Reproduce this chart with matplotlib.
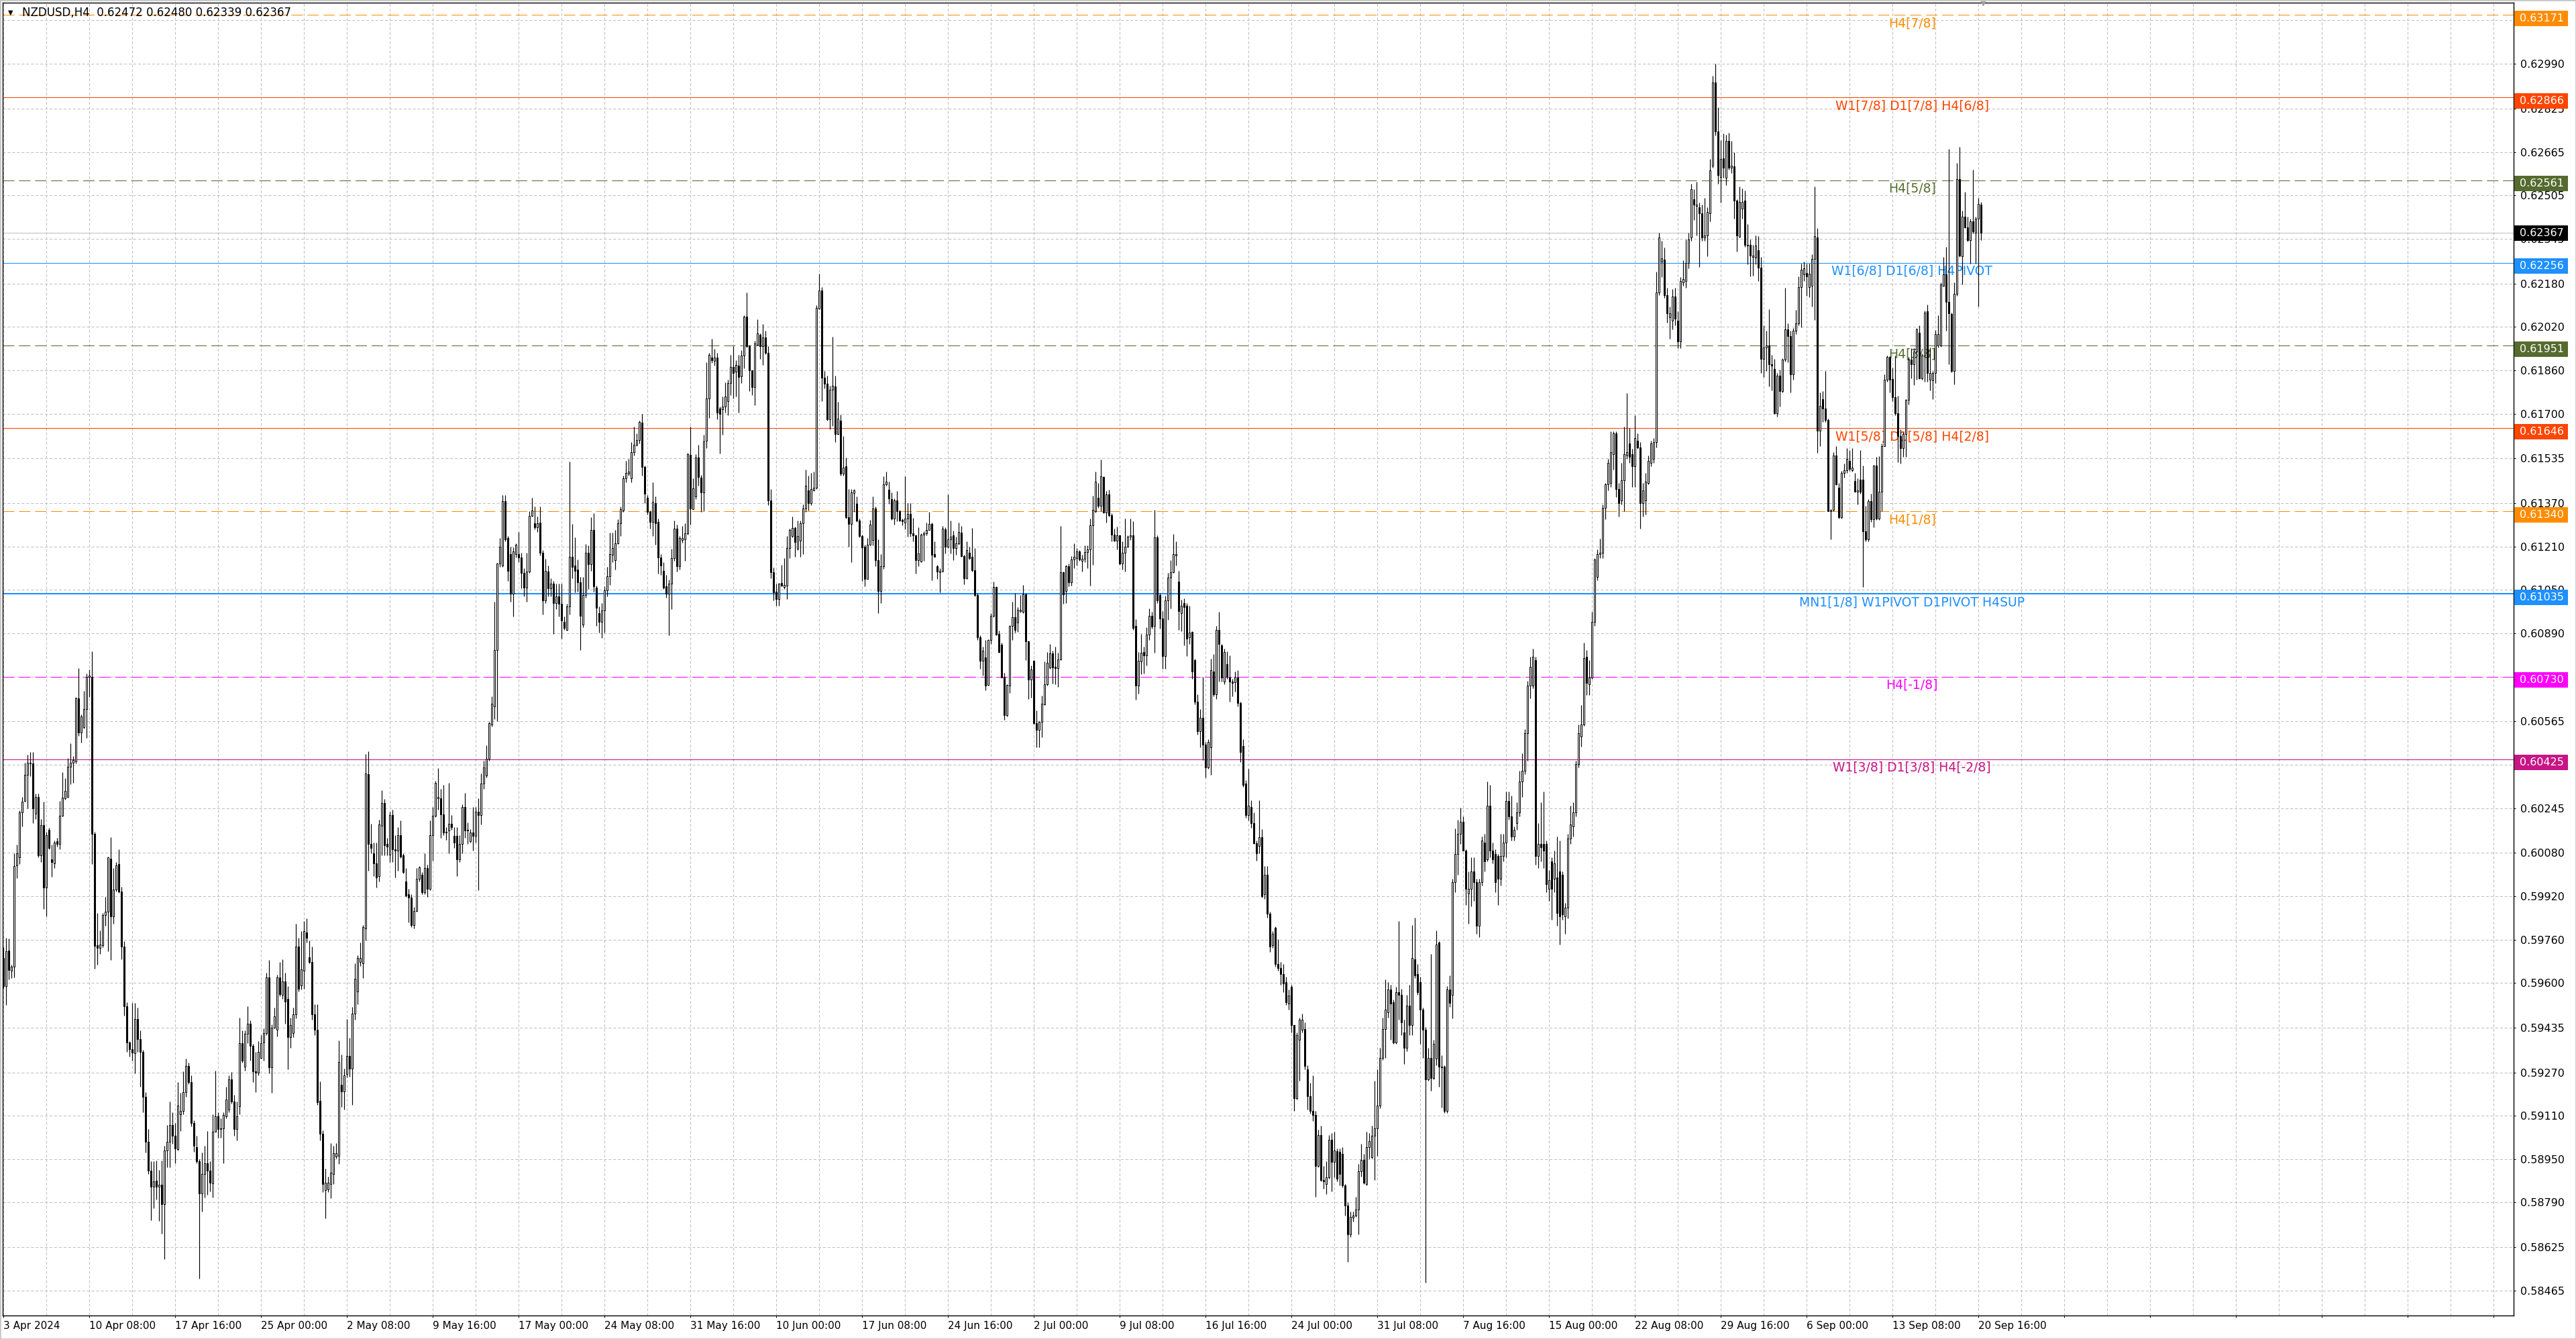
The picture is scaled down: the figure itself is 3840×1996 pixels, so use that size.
import numpy as np
import matplotlib
matplotlib.use("Agg")
import matplotlib.pyplot as plt
import matplotlib.transforms as mtransforms
from matplotlib.patches import Rectangle

plt.rcParams['font.family'] = ['DejaVu Sans']
plt.rcParams['lines.scale_dashes'] = False

# NZDUSD H4, prices in units of 0.00001
symbol_info = "NZDUSD,H4  0.62472 0.62480 0.62339 0.62367"

opens = [
    59692, 59589, 59719, 59645, 59660, 60034, 60063, 60228, 60271, 60367,
    60413, 60410, 60224, 60287, 60071, 60181, 59952, 60165, 60055, 60042,
    60123, 60113, 60217, 60280, 60287, 60397, 60413, 60418, 60650, 60523,
    60544, 60610, 60729, 60729, 60149, 59739, 59730, 59739, 59850, 59862,
    60058, 59845, 59944, 60039, 59936, 59734, 59515, 59381, 59356, 59340,
    59466, 59392, 59345, 59179, 59013, 58908, 58848, 58871, 58848, 58855,
    58784, 58982, 59013, 59076, 59037, 58986, 59116, 59127, 59198, 59293,
    59234, 59084, 58993, 58942, 58824, 58895, 58934, 58908, 58860, 59050,
    59108, 59061, 59064, 59108, 59132, 59245, 59163, 59061, 59144, 59377,
    59290, 59413, 59450, 59368, 59274, 59270, 59324, 59381, 59416, 59621,
    59289, 59435, 59428, 59621, 59555, 59605, 59540, 59401, 59416, 59483,
    59733, 59590, 59644, 59786, 59695, 59676, 59483, 59426, 59165, 59043,
    58835, 58839, 58858, 58896, 58960, 58962, 59225, 59199, 59265, 59331,
    59284, 59487, 59568, 59676, 59672, 59801, 60369, 60112, 60079, 60042,
    59994, 60180, 60263, 60112, 60074, 60218, 60093, 60089, 60146, 60070,
    59975, 59928, 59915, 59814, 59865, 59985, 59998, 59934, 60023, 59947,
    60146, 60216, 60282, 60282, 60222, 60155, 60161, 60187, 60142, 60142,
    60055, 60112, 60250, 60165, 60123, 60155, 60142, 60231, 60218, 60335,
    60364, 60426, 60553, 60619, 60828, 61146, 61140, 61377, 61240, 61183,
    61036, 61183, 61182, 61169, 61112, 61059, 61117, 61324, 61295, 61282,
    61297, 61187, 61011, 61117, 61055, 61074, 61002, 61026, 60998, 60932,
    60903, 60989, 61172, 61140, 61125, 61078, 60921, 61030, 61186, 61144,
    61272, 61059, 60964, 60931, 60973, 61049, 61101, 61179, 61160, 61222,
    61295, 61343, 61461, 61478, 61461, 61558, 61584, 61603, 61668, 61504,
    61390, 61338, 61300, 61371, 61300, 61169, 61120, 61063, 61035, 61073,
    61168, 61276, 61137, 61234, 61236, 61258, 61548, 61347, 61395, 61537,
    61463, 61409, 61601, 61755, 61908, 61895, 61906, 61719, 61717, 61726,
    61745, 61812, 61871, 61854, 61878, 61838, 61914, 62058, 61949, 61859,
    61797, 61955, 61990, 61949, 61982, 61923, 61381, 61115, 61044, 61016,
    61075, 61061, 61065, 61204, 61248, 61279, 61201, 61232, 61295, 61349,
    61418, 61371, 61418, 61428, 62088, 62154, 61832, 61810, 61679, 61788,
    61800, 61624, 61674, 61478, 61507, 61319, 61293, 61406, 61368, 61305,
    61248, 61208, 61090, 61217, 61233, 61351, 61159, 61046, 61138, 61438,
    61420, 61384, 61312, 61379, 61340, 61307, 61299, 61312, 61330, 61258,
    61250, 61159, 61155, 61254, 61258, 61272, 61293, 61181, 61138, 61115,
    61120, 61274, 61208, 61236, 61252, 61203, 61222, 61260, 61175, 61093,
    61186, 61171, 61122, 61031, 60874, 60788, 60800, 60699, 60866, 60953,
    61060, 60887, 60848, 60730, 60587, 60697, 60916, 60949, 60930, 60972,
    60969, 61033, 60859, 60718, 60788, 60557, 60534, 60562, 60627, 60701,
    60763, 60815, 60765, 60760, 60793, 61114, 61046, 61137, 61079, 61163,
    61167, 61192, 61156, 61165, 61189, 61200, 61287, 61340, 61390, 61359,
    61467, 61336, 61401, 61326, 61254, 61231, 61252, 61148, 61186, 61208,
    61247, 61250, 60916, 60697, 60785, 60821, 60808, 60884, 60955, 60917,
    61243, 61032, 60945, 60805, 61010, 61094, 61116, 61177, 61080, 60963,
    61000, 60991, 60876, 60894, 60790, 60637, 60529, 60578, 60479, 60395,
    60470, 60749, 60665, 60902, 60846, 60712, 60777, 60727, 60712, 60708,
    60727, 60632, 60473, 60336, 60218, 60250, 60190, 60116, 60106, 60138,
    59926, 60000, 59855, 59740, 59803, 59669, 59654, 59632, 59604, 59523,
    59585, 59445, 59175, 59390, 59427, 59430, 59281, 59181, 59129, 59114,
    58924, 59039, 58872, 58858, 58883, 59021, 58939, 58980, 58976, 58970,
    58853, 58779, 58672, 58734, 58741, 58765, 58905, 58946, 58859, 58995,
    58957, 59036, 59063, 59147, 59324, 59430, 59492, 59576, 59529, 59380,
    59566, 59557, 59417, 59361, 59516, 59445, 59687, 59632, 59604, 59501,
    59427, 59244, 59324, 59250, 59320, 59750, 59290, 59290, 59129, 59576,
    59556, 59972, 60075, 60151, 60195, 60087, 59929, 59947, 60011, 59972,
    59811, 59972, 60118, 60057, 60254, 60087, 60075, 60067, 59985, 60067,
    60118, 60272, 60215, 60139, 60190, 60228, 60343, 60382, 60522, 60696,
    60696, 60791, 60067, 60113, 60113, 60113, 59947, 60049, 59985, 59990,
    60011, 59998, 59845, 59878, 60133, 60177, 60228, 60407, 60509, 60553,
    60803, 60701, 60727, 60931, 61097, 61182, 61187, 61353, 61438, 61443,
    61550, 61627, 61422, 61379, 61455, 61545, 61591, 61550, 61507, 61601,
    61576, 61371, 61379, 61443, 61519, 61532, 61596, 62146, 62261, 62269,
    62138, 62056, 62044, 62133, 62044, 61967, 62184, 62189, 62256, 62350,
    62491, 62465, 62460, 62440, 62350, 62358, 62440, 62614, 62921, 62742,
    62573, 62642, 62569, 62707, 62607, 62611, 62485, 62353, 62456, 62485,
    62323, 62323, 62277, 62275, 62303, 62239, 61902, 61944, 61952, 61883,
    61866, 61702, 61840, 61783, 61900, 62012, 61986, 61844, 62006, 62034,
    62167, 62213, 62219, 62167, 62171, 62271, 62349, 61637, 61753, 61718,
    61676, 61339, 61346, 61546, 61426, 61317, 61482, 61491, 61527, 61491,
    61452, 61411, 61456, 61456, 61266, 61236, 61378, 61310, 61508, 61313,
    61411, 61581, 61825, 61909, 61827, 61760, 61702, 61618, 61572, 61624,
    61750, 61900, 61883, 61928, 61999, 61831, 61915, 62077, 61825, 61822,
    61851, 61951, 61951, 62171, 62213, 62112, 62068, 61857, 62142, 62565,
    62280, 62426, 62388, 62340, 62409, 62368, 62420, 62472,
]

highs = [
    59731, 59766, 59763, 59668, 60078, 60110, 60236, 60287, 60413, 60441,
    60452, 60452, 60299, 60299, 60205, 60268, 60157, 60173, 60110, 60126,
    60134, 60271, 60378, 60355, 60429, 60484, 60437, 60654, 60760, 60591,
    60678, 60741, 60757, 60823, 60157, 59858, 59794, 59858, 59918, 60066,
    60138, 60023, 60047, 60094, 59955, 59755, 59529, 59384, 59526, 59526,
    59510, 59424, 59353, 59198, 59061, 58942, 58942, 58945, 58911, 58945,
    58998, 59076, 59163, 59124, 59084, 59234, 59195, 59274, 59321, 59305,
    59258, 59092, 59037, 58950, 58974, 58998, 59053, 58942, 59116, 59277,
    59124, 59100, 59124, 59218, 59258, 59271, 59187, 59163, 59471, 59424,
    59424, 59514, 59463, 59376, 59345, 59384, 59408, 59432, 59637, 59684,
    59447, 59510, 59629, 59676, 59687, 59637, 59589, 59473, 59510, 59818,
    59767, 59790, 59828, 59837, 59757, 59733, 59521, 59521, 59237, 59057,
    58915, 58886, 59009, 59000, 59009, 59388, 59335, 59284, 59468, 59398,
    59511, 59672, 59701, 59748, 59814, 60445, 60453, 60187, 60117, 60117,
    60203, 60311, 60278, 60136, 60231, 60240, 60146, 60174, 60199, 60079,
    60023, 59947, 59928, 59881, 60023, 60032, 60009, 60079, 60036, 60199,
    60250, 60345, 60392, 60316, 60331, 60174, 60339, 60218, 60174, 60174,
    60146, 60259, 60301, 60193, 60168, 60250, 60250, 60282, 60373, 60420,
    60477, 60562, 60657, 61007, 61150, 61240, 61400, 61400, 61248, 61210,
    61206, 61221, 61263, 61187, 61131, 61187, 61339, 61390, 61358, 61320,
    61358, 61197, 61165, 61140, 61093, 61083, 61074, 61074, 61074, 60951,
    60998, 61523, 61292, 61244, 61163, 61097, 61097, 61220, 61215, 61319,
    61333, 61065, 60988, 61002, 61063, 61134, 61262, 61262, 61272, 61310,
    61357, 61471, 61527, 61532, 61594, 61652, 61627, 61674, 61698, 61508,
    61400, 61343, 61447, 61395, 61314, 61182, 61153, 61106, 61087, 61201,
    61305, 61291, 61248, 61286, 61295, 61556, 61652, 61461, 61551, 61584,
    61475, 61622, 61889, 61925, 61977, 61939, 61925, 61726, 61764, 61816,
    61826, 61916, 61949, 61897, 61916, 61935, 62062, 62148, 61954, 61861,
    61968, 62048, 61996, 62031, 62006, 61949, 61423, 61132, 61073, 61075,
    61141, 61168, 61248, 61276, 61321, 61283, 61305, 61305, 61366, 61494,
    61471, 61480, 61485, 62100, 62217, 62167, 61857, 61840, 61802, 61984,
    61840, 61743, 61696, 61617, 61537, 61423, 61423, 61423, 61395, 61314,
    61253, 61217, 61241, 61307, 61394, 61357, 61236, 61181, 61468, 61485,
    61450, 61409, 61386, 61415, 61345, 61312, 61470, 61369, 61369, 61316,
    61254, 61280, 61258, 61266, 61299, 61338, 61299, 61229, 61142, 61130,
    61285, 61280, 61401, 61305, 61269, 61246, 61299, 61285, 61180, 61229,
    61208, 61279, 61204, 61039, 60883, 60841, 60866, 60868, 60965, 61081,
    61064, 60899, 60854, 60744, 60701, 60920, 61006, 61039, 60986, 61031,
    61068, 61038, 60862, 60771, 60790, 60606, 60565, 60660, 60785, 60821,
    60851, 60825, 60841, 60817, 61285, 61118, 61142, 61147, 61175, 61222,
    61203, 61196, 61180, 61213, 61213, 61312, 61396, 61485, 61443, 61530,
    61470, 61415, 61420, 61332, 61277, 61283, 61254, 61229, 61313, 61252,
    61312, 61302, 60942, 60821, 60887, 60841, 60911, 60982, 60969, 61345,
    61252, 61038, 60972, 61028, 61112, 61159, 61256, 61230, 61121, 61013,
    61019, 61000, 60991, 60898, 60796, 60665, 60609, 60730, 60488, 60498,
    60796, 60814, 60917, 60969, 60851, 60833, 60824, 60809, 60721, 60749,
    60753, 60637, 60498, 60349, 60391, 60274, 60228, 60125, 60274, 60168,
    60032, 60032, 59864, 59790, 59808, 59762, 59678, 59669, 59622, 59576,
    59594, 59445, 59417, 59473, 59486, 59455, 59296, 59231, 59259, 59129,
    59058, 59073, 58924, 58942, 59039, 59045, 59050, 58989, 58989, 58995,
    58858, 58790, 58756, 58756, 58812, 58933, 59007, 58970, 59050, 59045,
    59073, 59240, 59281, 59361, 59473, 59613, 59604, 59594, 59538, 59585,
    59827, 59579, 59464, 59557, 59594, 59814, 59840, 59669, 59622, 59510,
    59436, 59361, 59706, 59389, 59793, 59755, 59333, 59295, 59589, 59627,
    59985, 60169, 60202, 60246, 60215, 60092, 60011, 60062, 60062, 59985,
    59985, 60139, 60151, 60343, 60330, 60118, 60092, 60075, 60151, 60151,
    60305, 60305, 60292, 60177, 60266, 60382, 60446, 60535, 60714, 60803,
    60834, 60803, 60190, 60266, 60305, 60126, 60016, 60062, 60087, 60139,
    60126, 60011, 59896, 60151, 60254, 60266, 60420, 60553, 60624, 60854,
    60829, 60791, 60970, 61166, 61200, 61238, 61366, 61443, 61532, 61634,
    61634, 61634, 61443, 61519, 61652, 61775, 61647, 61570, 61693, 61627,
    61596, 61443, 61481, 61545, 61601, 61609, 62223, 62368, 62338, 62312,
    62164, 62095, 62159, 62164, 62077, 62205, 62266, 62343, 62368, 62547,
    62529, 62555, 62478, 62471, 62496, 62460, 62639, 62946, 62990, 62829,
    62708, 62733, 62728, 62737, 62705, 62663, 62491, 62539, 62530, 62523,
    62400, 62342, 62323, 62358, 62355, 62278, 62025, 62006, 62086, 61918,
    61902, 61850, 61863, 61905, 62164, 62032, 62006, 62016, 62083, 62206,
    62254, 62262, 62254, 62254, 62288, 62539, 62384, 61779, 61783, 61857,
    61682, 61348, 61559, 61579, 61443, 61488, 61517, 61572, 61566, 61572,
    61482, 61462, 61566, 61508, 61359, 61385, 61404, 61512, 61540, 61542,
    61589, 61844, 61915, 61913, 61870, 61915, 61766, 61643, 61633, 61754,
    61909, 61941, 61941, 62016, 62025, 61922, 62081, 62103, 61944, 61857,
    62008, 62064, 62184, 62278, 62316, 62676, 62073, 62184, 62624, 62685,
    62448, 62517, 62426, 62420, 62601, 62426, 62497, 62480,
]

lows = [
    59581, 59518, 59613, 59618, 59621, 59987, 60039, 60176, 60268, 60244,
    60362, 60189, 60205, 60063, 60047, 59873, 59845, 60094, 59992, 60023,
    60102, 60094, 60213, 60276, 60284, 60334, 60339, 60410, 60512, 60486,
    60539, 60504, 60654, 60039, 59652, 59668, 59708, 59731, 59810, 59716,
    59684, 59818, 59936, 59933, 59687, 59479, 59345, 59329, 59313, 59266,
    59345, 59218, 59124, 58974, 58895, 58725, 58769, 58800, 58721, 58674,
    58582, 58919, 58919, 59006, 58934, 58982, 59053, 59116, 59179, 59226,
    59072, 58977, 58934, 58509, 58756, 58808, 58819, 58832, 58808, 59050,
    59029, 59029, 58934, 59100, 59124, 59155, 59037, 59018, 59116, 59305,
    59277, 59377, 59313, 59235, 59198, 59258, 59321, 59313, 59408, 59266,
    59195, 59432, 59403, 59550, 59542, 59450, 59282, 59360, 59400, 59470,
    59568, 59575, 59577, 59748, 59672, 59464, 59407, 59151, 59019, 58829,
    58731, 58829, 58805, 58858, 58952, 58933, 59142, 59132, 59252, 59255,
    59151, 59464, 59521, 59663, 59619, 59757, 60013, 60079, 59994, 59951,
    59975, 60070, 60070, 60070, 60047, 60047, 59990, 60013, 60061, 60004,
    59918, 59824, 59805, 59801, 59862, 59975, 59928, 59928, 59918, 59941,
    60051, 60212, 60240, 60136, 60146, 60127, 60079, 60165, 60098, 59994,
    60047, 60079, 60136, 60112, 60117, 60089, 60117, 59943, 60184, 60316,
    60358, 60420, 60545, 60572, 60566, 61134, 61134, 61229, 61083, 61007,
    60951, 61169, 61153, 61055, 61026, 61007, 61112, 61320, 61273, 61263,
    61178, 60960, 61002, 61026, 61026, 60888, 60979, 60951, 60869, 60903,
    60900, 60960, 61093, 61040, 61044, 60827, 60912, 61021, 61054, 61120,
    61044, 60917, 60893, 60872, 60893, 61026, 61068, 61153, 61125, 61220,
    61248, 61338, 61447, 61471, 61447, 61546, 61580, 61589, 61471, 61371,
    61329, 61276, 61248, 61217, 61111, 61106, 61054, 61021, 60883, 60978,
    61158, 61118, 61125, 61224, 61158, 61253, 61291, 61347, 61385, 61433,
    61338, 61340, 61573, 61684, 61887, 61878, 61679, 61554, 61622, 61703,
    61693, 61769, 61755, 61764, 61703, 61812, 61868, 61944, 61783, 61769,
    61731, 61954, 61901, 61880, 61920, 61362, 61092, 61011, 60992, 60992,
    61063, 61054, 61016, 61168, 61243, 61172, 61196, 61172, 61182, 61338,
    61343, 61362, 61414, 61421, 62086, 61745, 61793, 61674, 61643, 61655,
    61596, 61622, 61471, 61471, 61314, 61210, 61153, 61338, 61300, 61243,
    61082, 61064, 61089, 61213, 61213, 61137, 60965, 61000, 61128, 61435,
    61368, 61307, 61291, 61302, 61302, 61288, 61274, 61246, 61246, 61229,
    61109, 61138, 61151, 61156, 61252, 61270, 61085, 61171, 61089, 61041,
    61114, 61184, 61204, 61184, 61159, 61180, 61217, 61171, 61071, 61089,
    61163, 61118, 61027, 60866, 60759, 60734, 60680, 60697, 60850, 60949,
    60883, 60817, 60726, 60571, 60584, 60670, 60866, 60892, 60895, 60967,
    60965, 60792, 60647, 60652, 60553, 60470, 60470, 60505, 60625, 60697,
    60759, 60705, 60701, 60691, 60790, 60998, 61000, 61064, 61066, 61130,
    61140, 61156, 61118, 61151, 61130, 61066, 61142, 61336, 61353, 61340,
    61332, 61297, 61320, 61229, 61229, 61200, 61142, 61126, 61118, 61206,
    61233, 60903, 60645, 60668, 60738, 60742, 60771, 60866, 60907, 60818,
    61000, 60907, 60758, 60758, 60939, 60982, 61112, 61140, 60902, 60898,
    60846, 60805, 60851, 60721, 60628, 60516, 60470, 60423, 60358, 60391,
    60367, 60656, 60647, 60712, 60712, 60702, 60721, 60637, 60656, 60675,
    60619, 60414, 60324, 60209, 60200, 60172, 60112, 60051, 60079, 59915,
    59911, 59840, 59715, 59728, 59659, 59646, 59594, 59566, 59520, 59501,
    59417, 59129, 59170, 59240, 59417, 59281, 59132, 59119, 59091, 58812,
    58920, 58868, 58840, 58821, 58877, 58831, 58883, 58868, 58853, 58845,
    58741, 58570, 58663, 58719, 58737, 58672, 58886, 58859, 58853, 58952,
    58952, 58872, 58961, 59138, 59315, 59324, 59473, 59389, 59375, 59375,
    59464, 59408, 59300, 59348, 59408, 59408, 59617, 59557, 59375, 59324,
    58495, 59240, 59203, 59244, 59295, 59218, 59141, 59121, 59121, 59512,
    59469, 59934, 59998, 60113, 60087, 59888, 59819, 59883, 59903, 59781,
    59768, 59960, 60011, 60049, 60062, 60041, 59934, 59888, 59960, 60049,
    60062, 60203, 60126, 60126, 60164, 60215, 60287, 60369, 60420, 60650,
    60688, 60036, 60023, 60049, 60023, 59934, 59903, 59832, 59934, 59811,
    59742, 59832, 59781, 59837, 60113, 60139, 60215, 60394, 60471, 60548,
    60663, 60663, 60722, 60918, 61085, 61166, 61166, 61310, 61417, 61430,
    61494, 61391, 61320, 61366, 61340, 61532, 61519, 61430, 61430, 61570,
    61276, 61320, 61328, 61438, 61507, 61519, 61576, 62138, 62205, 62128,
    62036, 61975, 62010, 62026, 61941, 61941, 62171, 62164, 62235, 62338,
    62414, 62358, 62240, 62338, 62338, 62281, 62409, 62606, 62726, 62547,
    62478, 62569, 62543, 62601, 62588, 62420, 62297, 62349, 62420, 62316,
    62252, 62206, 62210, 62252, 62189, 61850, 61835, 61857, 61801, 61786,
    61698, 61689, 61727, 61779, 61892, 61889, 61779, 61825, 61993, 62025,
    62019, 62190, 62135, 62129, 62094, 62045, 61555, 61581, 61669, 61669,
    61339, 61236, 61339, 61436, 61313, 61313, 61465, 61482, 61488, 61486,
    61411, 61365, 61404, 61061, 61229, 61229, 61301, 61281, 61307, 61307,
    61339, 61579, 61818, 61779, 61747, 61695, 61521, 61517, 61540, 61540,
    61734, 61831, 61805, 61825, 61827, 61825, 61818, 61818, 61786, 61753,
    61812, 61944, 61947, 62168, 62006, 61883, 61853, 61809, 62135, 62278,
    62177, 62384, 62336, 62254, 62365, 62254, 62096, 62339,
]

closes = [
    59589, 59716, 59648, 59660, 60031, 60078, 60228, 60268, 60367, 60413,
    60410, 60244, 60287, 60071, 60181, 59952, 60145, 60097, 60045, 60118,
    60113, 60216, 60284, 60307, 60397, 60413, 60422, 60650, 60523, 60583,
    60610, 60729, 60734, 60149, 59736, 59730, 59742, 59850, 59862, 60063,
    59845, 59944, 60034, 59936, 59734, 59515, 59381, 59356, 59343, 59466,
    59392, 59345, 59179, 59013, 58908, 58848, 58867, 58848, 58855, 58784,
    58982, 59013, 59076, 59037, 58990, 59147, 59127, 59198, 59293, 59234,
    59084, 58998, 58942, 58824, 58895, 58934, 58908, 58863, 59050, 59108,
    59061, 59064, 59113, 59171, 59245, 59163, 59061, 59108, 59377, 59313,
    59413, 59450, 59368, 59274, 59270, 59345, 59377, 59416, 59621, 59289,
    59435, 59476, 59621, 59558, 59605, 59530, 59400, 59445, 59483, 59733,
    59577, 59649, 59790, 59767, 59676, 59483, 59426, 59161, 59043, 58858,
    58862, 58862, 58900, 58971, 58971, 59309, 59199, 59259, 59331, 59284,
    59487, 59615, 59691, 59691, 59805, 60373, 60112, 60097, 60042, 59990,
    60184, 60263, 60108, 60102, 60218, 60093, 60089, 60146, 60066, 60009,
    59922, 59915, 59814, 59865, 59985, 60026, 59934, 60023, 59947, 60146,
    60216, 60339, 60286, 60222, 60155, 60157, 60187, 60174, 60117, 60055,
    60112, 60250, 60161, 60161, 60155, 60142, 60231, 60218, 60335, 60396,
    60426, 60559, 60629, 60828, 61146, 61210, 61377, 61235, 61121, 61036,
    61191, 61216, 61169, 61112, 61059, 61117, 61324, 61343, 61282, 61295,
    61187, 61011, 61121, 61055, 61074, 61002, 61026, 60998, 60937, 60909,
    60989, 61172, 61134, 61121, 61078, 60954, 61030, 61186, 61144, 61270,
    61063, 60983, 60933, 60973, 61049, 61101, 61182, 61205, 61222, 61295,
    61348, 61461, 61480, 61485, 61558, 61586, 61603, 61669, 61504, 61404,
    61338, 61300, 61374, 61295, 61169, 61139, 61059, 61035, 61073, 61168,
    61276, 61137, 61241, 61241, 61258, 61551, 61349, 61425, 61537, 61466,
    61409, 61598, 61755, 61918, 61897, 61906, 61703, 61700, 61726, 61764,
    61812, 61871, 61849, 61880, 61835, 61914, 62058, 61949, 61859, 61797,
    61958, 61996, 61949, 61980, 61923, 61381, 61115, 61040, 61016, 61073,
    61065, 61068, 61204, 61272, 61279, 61226, 61248, 61295, 61349, 61433,
    61371, 61421, 61428, 62091, 62154, 61832, 61810, 61679, 61788, 61802,
    61624, 61681, 61478, 61501, 61319, 61293, 61409, 61418, 61305, 61248,
    61207, 61090, 61217, 61291, 61351, 61159, 61046, 61138, 61439, 61448,
    61386, 61312, 61379, 61340, 61305, 61303, 61312, 61330, 61258, 61250,
    61159, 61184, 61254, 61258, 61272, 61293, 61180, 61173, 61118, 61120,
    61277, 61208, 61236, 61246, 61203, 61222, 61264, 61175, 61093, 61196,
    61167, 61122, 61031, 60876, 60788, 60825, 60697, 60866, 60955, 61060,
    60884, 60821, 60727, 60587, 60699, 60916, 60949, 60903, 60977, 60977,
    61033, 60859, 60719, 60757, 60557, 60534, 60562, 60631, 60701, 60782,
    60815, 60763, 60760, 60793, 61114, 61033, 61137, 61079, 61163, 61171,
    61192, 61161, 61165, 61189, 61200, 61287, 61345, 61450, 61359, 61470,
    61336, 61401, 61326, 61254, 61231, 61250, 61148, 61186, 61208, 61247,
    61251, 60909, 60697, 60788, 60818, 60808, 60884, 60955, 60914, 61243,
    61010, 60945, 60805, 61010, 61094, 61116, 61181, 61183, 60972, 60991,
    60987, 60870, 60892, 60749, 60637, 60529, 60578, 60479, 60395, 60488,
    60753, 60665, 60902, 60851, 60727, 60820, 60730, 60712, 60706, 60730,
    60632, 60451, 60330, 60218, 60255, 60190, 60116, 60079, 60138, 59920,
    60000, 59855, 59734, 59781, 59669, 59654, 59632, 59598, 59529, 59553,
    59445, 59175, 59408, 59464, 59464, 59293, 59181, 59129, 59114, 58924,
    59039, 58872, 58868, 58883, 59021, 58939, 58983, 58877, 58896, 58853,
    58779, 58672, 58738, 58741, 58765, 58905, 58946, 58864, 58995, 59017,
    59036, 59063, 59147, 59324, 59430, 59501, 59576, 59524, 59380, 59566,
    59557, 59455, 59361, 59516, 59445, 59691, 59628, 59566, 59501, 59427,
    59244, 59324, 59250, 59375, 59742, 59290, 59288, 59129, 59576, 59525,
    59972, 60075, 60151, 60195, 60087, 59947, 59947, 60011, 59972, 59811,
    59972, 60126, 60049, 60254, 60087, 60057, 59972, 59985, 60067, 60118,
    60272, 60215, 60139, 60164, 60228, 60343, 60382, 60522, 60696, 60765,
    60803, 60067, 60113, 60100, 60087, 59965, 59980, 59947, 60041, 59857,
    59845, 59852, 59878, 60133, 60185, 60228, 60407, 60522, 60553, 60798,
    60706, 60727, 60931, 61161, 61182, 61187, 61353, 61438, 61519, 61558,
    61627, 61422, 61371, 61455, 61550, 61558, 61540, 61507, 61609, 61576,
    61371, 61417, 61448, 61525, 61591, 61596, 62146, 62350, 62274, 62138,
    62069, 62069, 62133, 62051, 61967, 62189, 62197, 62256, 62343, 62529,
    62471, 62471, 62440, 62350, 62358, 62445, 62598, 62921, 62742, 62581,
    62639, 62607, 62707, 62607, 62614, 62485, 62358, 62482, 62482, 62323,
    62319, 62284, 62284, 62319, 62239, 61902, 61944, 61952, 61883, 61876,
    61702, 61840, 61783, 61900, 62012, 61986, 61844, 62006, 62034, 62167,
    62232, 62236, 62206, 62215, 62271, 62355, 61637, 61728, 61718, 61676,
    61339, 61346, 61546, 61439, 61317, 61482, 61491, 61533, 61495, 61501,
    61413, 61417, 61411, 61266, 61236, 61378, 61310, 61508, 61313, 61411,
    61581, 61825, 61909, 61825, 61760, 61702, 61618, 61572, 61624, 61750,
    61900, 61883, 61928, 62012, 61831, 61915, 62073, 61851, 61851, 61851,
    61993, 61993, 62177, 62213, 62112, 62070, 61857, 62142, 62565, 62284,
    62426, 62388, 62340, 62409, 62371, 62420, 62474, 62367,
]

# one label every 32 bars (bar 0 = 3 Apr 2024 00:00)
date_labels = [
    "3 Apr 2024", "10 Apr 08:00", "17 Apr 16:00", "25 Apr 00:00", "2 May 08:00",
    "9 May 16:00", "17 May 00:00", "24 May 08:00", "31 May 16:00", "10 Jun 00:00",
    "17 Jun 08:00", "24 Jun 16:00", "2 Jul 00:00", "9 Jul 08:00", "16 Jul 16:00",
    "24 Jul 00:00", "31 Jul 08:00", "7 Aug 16:00", "15 Aug 00:00", "22 Aug 08:00",
    "29 Aug 16:00", "6 Sep 00:00", "13 Sep 08:00", "20 Sep 16:00",
]

price_ticks = [0.63152, 0.62990, 0.62825, 0.62665, 0.62505, 0.62345, 0.62180,
               0.62020, 0.61860, 0.61700, 0.61535, 0.61370, 0.61210, 0.61050,
               0.60890, 0.60730, 0.60565, 0.60405, 0.60245, 0.60080, 0.59920,
               0.59760, 0.59600, 0.59435, 0.59270, 0.59110, 0.58950, 0.58790,
               0.58625, 0.58465]
hidden_ticks = [0.63152, 0.60405]

level_values = [0.63171, 0.62866, 0.62561, 0.62256, 0.61951, 0.61646,
                0.61340, 0.61035, 0.60730, 0.60425]
level_names = ["H4[7/8]", "W1[7/8] D1[7/8] H4[6/8]", "H4[5/8]",
               "W1[6/8] D1[6/8] H4PIVOT", "H4[3/8]", "W1[5/8] D1[5/8] H4[2/8]",
               "H4[1/8]", "MN1[1/8] W1PIVOT D1PIVOT H4SUP", "H4[-1/8]",
               "W1[3/8] D1[3/8] H4[-2/8]"]

# styles for the levels
level_colors = ["#FF8C00", "#FF4500", "#556B2F", "#1E90FF", "#556B2F",
                "#FF4500", "#FF8C00", "#1E90FF", "#FF00FF", "#C71585"]
level_dashed = [True, False, True, False, True, False, True, False, True, False]
level_widths = [0.75, 0.75, 0.75, 0.75, 0.75, 0.75, 0.75, 1.5, 0.75, 0.75]

n = min(len(opens), len(highs), len(lows), len(closes))
o = np.array(opens[:n]) / 1e5
h = np.array(highs[:n]) / 1e5
l = np.array(lows[:n]) / 1e5
c = np.array(closes[:n]) / 1e5
x = np.arange(n)
bid = c[-1]

W, H = 3840, 1996
fig = plt.figure(figsize=(W / 100, H / 100), dpi=100)
fig.patch.set_facecolor("white")
ax = fig.add_axes([4 / W, 1 - 1961 / H, (3747 - 4) / W, (1961 - 4) / H])
ax.set_xlim(-0.33, 935.4)
ax.set_ylim(0.58373, 0.63216)
px = (0.63216 - 0.58373) / (1961 - 4)   # price per pixel

for s in ax.spines.values():
    s.set_color("black")
    s.set_linewidth(1.0)

# grid
ax.set_yticks(price_ticks)
ax.set_yticklabels(["" if v in hidden_ticks else f"{v:.5f}" for v in price_ticks])
ax.yaxis.tick_right()
major_x = np.arange(0, 936, 32)
ax.set_xticks(major_x)
ax.set_xticks(np.arange(16, 936, 32), minor=True)
ax.set_xticklabels(date_labels + [""] * (len(major_x) - len(date_labels)))
for lbl in ax.get_xticklabels():
    lbl.set_horizontalalignment("left")
ax.grid(True, which="both", color="#c0c0c0", linestyle=(0, (3, 2)), linewidth=0.75)
ax.tick_params(axis="y", which="major", length=2.5, width=0.75, pad=5,
               labelsize=11.5, colors="black")
ax.tick_params(axis="x", which="major", length=2.5, width=0.75, pad=3, labelsize=11)
ax.tick_params(axis="x", which="minor", length=0)

# level lines and their names
for v, name, col, dashed, lw in zip(level_values, level_names, level_colors,
                                    level_dashed, level_widths):
    if dashed:
        ax.axhline(v, color=col, lw=lw, dashes=(12.2, 5.0), zorder=2)
    else:
        ax.axhline(v, color=col, lw=lw, zorder=2)
    ax.text(711.2, v - 3 * px, name, color=col, fontsize=13.5, ha="center",
            va="top", zorder=2.2)

# bid line
ax.axhline(bid, color="#c0c0c0", lw=0.75, zorder=2)

# candles
body_lo = np.minimum(o, c)
body_hi = np.maximum(o, c)
ax.vlines(x, np.minimum(l, body_lo), np.maximum(h, body_hi), color="black",
          lw=0.85, zorder=3)
up = c >= o
body_h = np.maximum(body_hi - body_lo, 0.000012)
ax.bar(x[up], body_h[up], bottom=body_lo[up], width=0.55, color="white",
       edgecolor="black", linewidth=0.75, zorder=4)
ax.bar(x[~up], body_h[~up], bottom=body_lo[~up], width=0.55, color="black",
       edgecolor="black", linewidth=0.75, zorder=4)

# price boxes on the right axis (level boxes sit a few pixels below their line)
trans = mtransforms.blended_transform_factory(ax.transAxes, ax.transData)
ax_w = 3747 - 4
box_vals = level_values + [bid]
box_cols = level_colors + ["black"]
box_shift = [5] * len(level_values) + [0]
for v, col, sh in zip(box_vals, box_cols, box_shift):
    yc = v - sh * px
    ax.add_patch(Rectangle(((3748 - 4) / ax_w, yc - 11.5 * px), 80 / ax_w, 23 * px,
                           transform=trans, facecolor=col, edgecolor="none",
                           clip_on=False, zorder=5))
    ax.text((3756 - 4) / ax_w, yc, f"{v:.5f}", transform=trans, color="white",
            fontsize=11.5, ha="left", va="center", clip_on=False, zorder=6)

# chart shift marker
ax.plot([737.7], [0.63216], marker="v", color="#a0a0a0", markersize=6,
        clip_on=False, zorder=6)

# header
fig.text(15.5 / W, 1 - 19 / H, "\u25bc", fontsize=7, ha="center", va="center")
fig.text(33 / W, 1 - 19 / H, symbol_info, fontsize=12, ha="left", va="center")

fig.patches.append(Rectangle((0, 0), 1, 1, transform=fig.transFigure, fill=False,
                             edgecolor="#c8c8c8", linewidth=2))

fig.savefig("out.png", dpi=100, facecolor="white")
